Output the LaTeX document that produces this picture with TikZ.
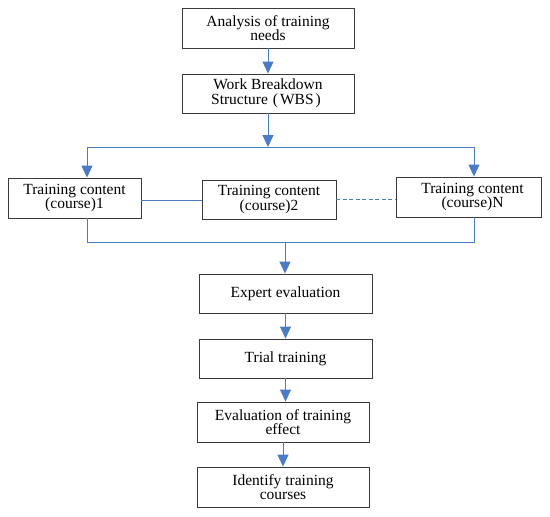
\documentclass[tikz,border=0pt]{standalone}
\usepackage{fontspec}
\setmainfont{Liberation Serif}
\usetikzlibrary{arrows.meta}
\definecolor{lineblue}{HTML}{4A7CC4}
\definecolor{boxline}{HTML}{3A3A3A}
\tikzset{
  flowbox/.style={draw=boxline, line width=0.9pt, rectangle, align=center, inner sep=0pt,
    font=\fontsize{15.5}{14.5}\selectfont},
  link/.style={draw=lineblue, line width=0.9pt},
  arr/.style={link, -{Triangle[width=11pt,length=12pt]}},
}
\begin{document}
\begin{tikzpicture}[x=1pt,y=-1pt]
\useasboundingbox (0,0) rectangle (550,517);
\node[flowbox, minimum width=172pt, minimum height=40pt] (A) at (268,28) {Analysis of training\\needs};
\node[flowbox, minimum width=172pt, minimum height=39pt] (W) at (268,93.5) {Work Breakdown\\Structure\kern5pt(\kern2pt WBS\kern2pt)\kern4pt};
\node[flowbox, minimum width=133pt, minimum height=40pt] (C1) at (74.5,198) {Training content\\(course)1};
\node[flowbox, minimum width=134pt, minimum height=39pt] (C2) at (269,199.5) {Training content\\(course)2};
\node[flowbox, minimum width=145pt, minimum height=40pt] (CN) at (468.5,197) {\hspace*{8pt}Training content\\\hspace*{8pt}(course)N};
\node[flowbox, minimum width=173pt, minimum height=39pt] (E) at (285.5,293.5) {Expert evaluation};
\node[flowbox, minimum width=173pt, minimum height=39pt] (T) at (285.5,358.5) {Trial training};
\node[flowbox, minimum width=172pt, minimum height=40pt] (Ev) at (283,422) {Evaluation of training\\effect};
\node[flowbox, minimum width=172pt, minimum height=40pt] (I) at (283,487) {Identify training\\courses};

\coordinate (tm) at (268,147);
\coordinate (tl) at (87,147);
\coordinate (tr) at (474,147);
\coordinate (bl) at (87,242);
\coordinate (br) at (474,242);
\coordinate (bm) at (285,242);

\draw[arr] (A.south) -- (W.north);
\draw[arr] (W.south) -- (tm);
\draw[link] (tl) -- (tr);
\draw[arr] (tl) -- (tl |- C1.north);
\draw[arr] (tr) -- (tr |- CN.north);
\draw[link] (C1.east |- 0,200) -- (C2.west |- 0,200);
\draw[link, dash pattern=on 4pt off 2.5pt] (C2.east |- 0,199) -- (CN.west |- 0,199);
\draw[link] (bl |- C1.south) -- (bl) -- (br) -- (br |- CN.south);
\draw[arr] (bm) -- (bm |- E.north);
\draw[arr] (E.south) -- (T.north);
\draw[arr] (T.south) -- (T.south |- Ev.north);
\draw[arr] (Ev.south) -- (I.north);
\end{tikzpicture}
\end{document}
